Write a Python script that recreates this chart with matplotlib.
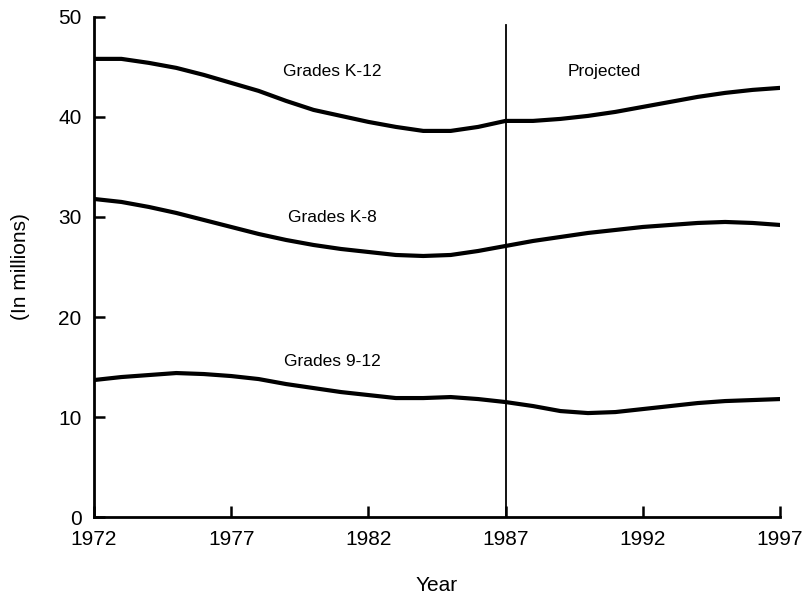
import matplotlib.pyplot as plt

# enrollment, in millions
years = list(range(1972, 1998))

k12 = [45.8, 45.8, 45.4, 44.9, 44.2, 43.4, 42.6, 41.6, 40.7, 40.1, 39.5, 39.0, 38.6,
       38.6, 39.0, 39.6, 39.6, 39.8, 40.1, 40.5, 41.0, 41.5, 42.0, 42.4, 42.7, 42.9]

k8 = [31.8, 31.5, 31.0, 30.4, 29.7, 29.0, 28.3, 27.7, 27.2, 26.8, 26.5, 26.2, 26.1,
      26.2, 26.6, 27.1, 27.6, 28.0, 28.4, 28.7, 29.0, 29.2, 29.4, 29.5, 29.4, 29.2]

g912 = [13.7, 14.0, 14.2, 14.4, 14.3, 14.1, 13.8, 13.3, 12.9, 12.5, 12.2, 11.9, 11.9,
        12.0, 11.8, 11.5, 11.1, 10.6, 10.4, 10.5, 10.8, 11.1, 11.4, 11.6, 11.7, 11.8]

xticks = [1972, 1977, 1982, 1987, 1992, 1997]
yticks = [0, 10, 20, 30, 40, 50]
split_year = 1987

plt.rcParams['font.family'] = ['Liberation Sans', 'DejaVu Sans']

fig = plt.figure(figsize=(8.1, 6.02), dpi=100)
ax = fig.add_axes([0.116, 0.141, 0.847, 0.831])

for series in (k12, k8, g912):
    ax.plot(years, series, color='black', lw=3, solid_joinstyle='round')

ax.plot([split_year, split_year], [0, 49.2], color='black', lw=1.3)

ax.text(1980.7, 44.5, 'Grades K-12', fontsize=12.5, ha='center', va='center')
ax.text(1990.6, 44.5, 'Projected', fontsize=12.5, ha='center', va='center')
ax.text(1980.7, 29.9, 'Grades K-8', fontsize=12.5, ha='center', va='center')
ax.text(1980.7, 15.6, 'Grades 9-12', fontsize=12.5, ha='center', va='center')

ax.set_xlim(1972, 1997)
ax.set_ylim(0, 50)
ax.set_xticks(xticks)
ax.set_yticks(yticks)
ax.tick_params(direction='in', length=8, width=1.8, labelsize=15, pad=9)

for side in ('top', 'right'):
    ax.spines[side].set_visible(False)
for side in ('left', 'bottom'):
    ax.spines[side].set_linewidth(2)

ax.set_xlabel('Year', fontsize=15, labelpad=20)
ax.set_ylabel('(In millions)', fontsize=15, labelpad=20)

fig.savefig('out.png', dpi=100)
